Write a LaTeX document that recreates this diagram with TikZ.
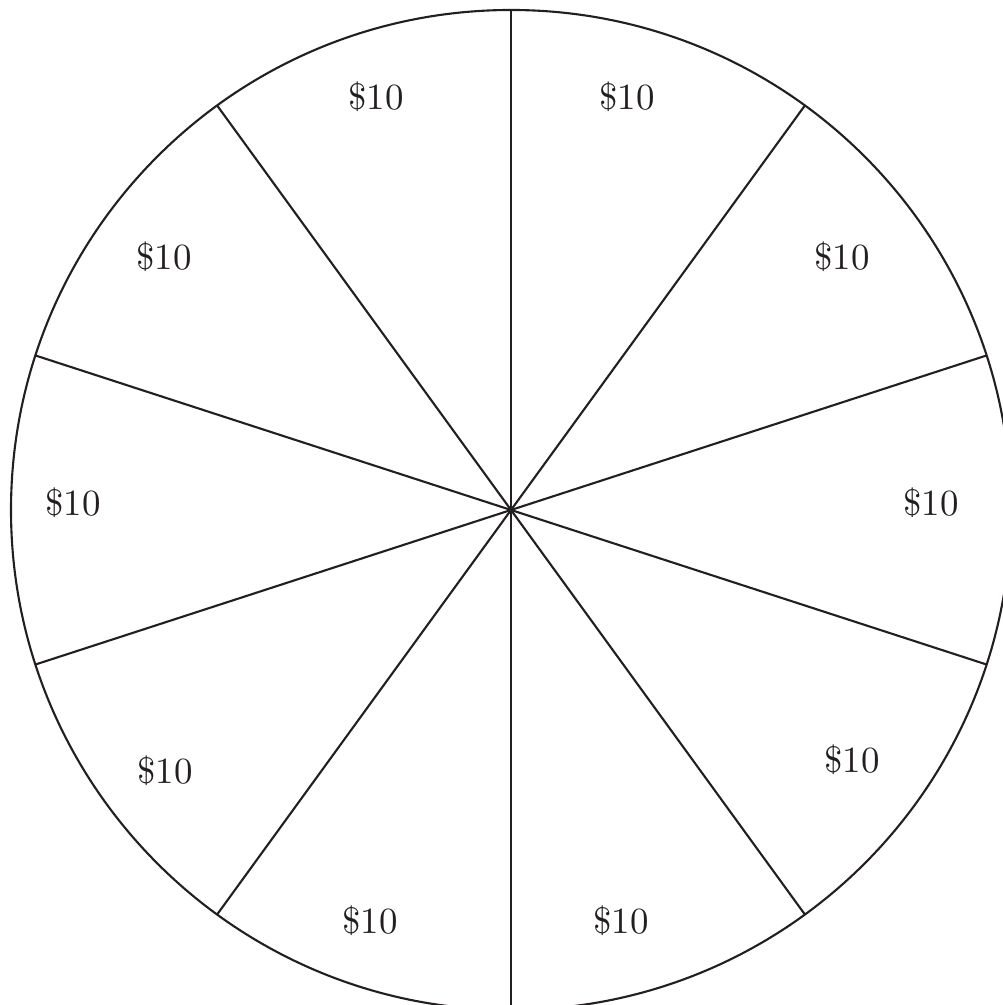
\documentclass[tikz,border=0pt]{standalone}
\usepackage{tikz}
\usetikzlibrary{calc}
\definecolor{ink}{HTML}{231F20}

\begin{document}
\begin{tikzpicture}[
    spoke/.style={draw=ink, line width=0.6pt},
    rim/.style={draw=ink, line width=0.6pt},
    prize/.style={text=ink, font=\fontsize{10.5}{12}\selectfont, inner sep=0pt}
]
\useasboundingbox (0,0) rectangle (10.02,10.05);
\coordinate (c) at (5.11,4.95);
\draw[rim] (c) circle (5.0);
% spokes every 36 degrees, starting at the top
\foreach \i in {0,...,9} {
  \coordinate (s\i) at ($(c)+({90-36*\i}:5.0)$);
  \draw[spoke] (c) -- (s\i);
}
% one prize label per sector
\foreach \x/\y [count=\i from 0] in {6.27/9.08, 8.42/7.48, 9.31/5.02, 8.52/2.45, 6.21/0.84,
                                     3.70/0.84, 1.65/2.34, 0.73/5.02, 1.64/7.48, 3.76/9.08} {
  \node[prize] (p\i) at (\x,\y) {\$10};
}
\end{tikzpicture}
\end{document}
